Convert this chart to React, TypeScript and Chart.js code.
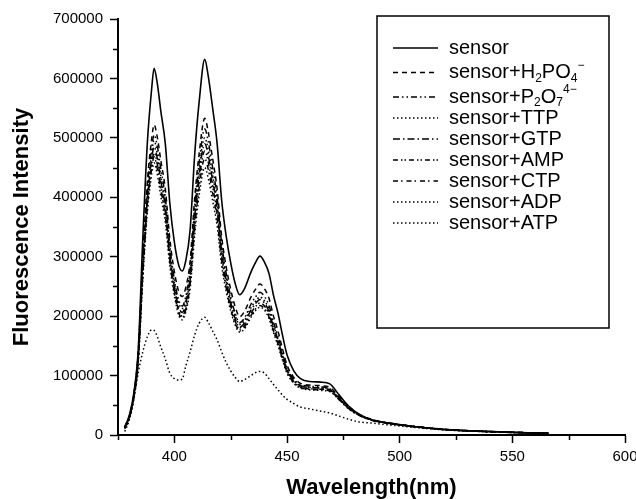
import React, { useEffect, useRef } from 'react';
import { Chart, registerables } from 'chart.js';

Chart.register(...registerables);

// ---------------- data ----------------
const wavelengths = [
  378, 380, 382, 384, 386, 388, 390, 391, 392.5, 394,
  396, 398, 400, 402, 403.5, 405, 407, 409, 411, 413.5,
  415, 417, 419, 421, 423, 425, 427, 429, 431, 434,
  436, 438, 440, 442, 444, 446, 448, 450, 453, 456,
  460, 465, 469, 473, 477, 482, 488, 495, 505, 520,
  535, 550, 566,
];

const sensor = [
  14000, 33000, 70000, 145000, 330000, 490000, 585000, 617000, 590000, 545000,
  490000, 390000, 325000, 285000, 276000, 292000, 345000, 470000, 560000, 632000,
  605000, 550000, 490000, 395000, 335000, 290000, 255000, 236000, 245000, 274000,
  290000, 301000, 291000, 272000, 235000, 205000, 168000, 135000, 108000, 95000,
  90000, 89000, 86000, 68000, 50000, 35000, 25000, 20000, 15000, 9000,
  6500, 4500, 3000,
];

const sensorH2PO4 = [
  13000, 32000, 68000, 140000, 300000, 425000, 500000, 522000, 500000, 462000,
  414000, 330000, 275000, 241000, 233000, 247000, 292000, 397000, 473000, 533000,
  511000, 465000, 414000, 334000, 283000, 245000, 216000, 199000, 207000, 232000,
  245000, 254000, 246000, 230000, 200000, 175000, 145000, 118000, 97000, 87000,
  84000, 83000, 80000, 65000, 49000, 35000, 25500, 20000, 15000, 9500,
  6500, 4500, 3000,
];

const sensorP2O7 = [
  13000, 31000, 66000, 135000, 290000, 412000, 485000, 505000, 485000, 448000,
  400000, 318000, 262000, 226000, 217000, 232000, 280000, 383000, 458000, 515000,
  495000, 450000, 400000, 322000, 272000, 233000, 205000, 189000, 196000, 220000,
  232000, 240000, 233000, 218000, 190000, 166000, 138000, 113000, 94000, 85000,
  82000, 81000, 78000, 63000, 48000, 34000, 25000, 20000, 15000, 9500,
  6500, 4500, 3000,
];

const sensorTTP = [
  12000, 30000, 65000, 132000, 283000, 402000, 475000, 495000, 473000, 436000,
  390000, 310000, 256000, 222000, 213000, 226000, 272000, 372000, 447000, 500000,
  481000, 437000, 390000, 314000, 266000, 228000, 201000, 186000, 192000, 214000,
  225000, 232000, 226000, 212000, 186000, 162000, 135000, 111000, 92000, 83000,
  80000, 79000, 77000, 62000, 47000, 34000, 25000, 20000, 14500, 9500,
  6500, 4500, 3000,
];

const sensorGTP = [
  12000, 30000, 64000, 130000, 278000, 395000, 466000, 485000, 464000, 428000,
  383000, 304000, 250000, 215000, 206000, 220000, 266000, 365000, 438000, 490000,
  471000, 428000, 382000, 308000, 260000, 223000, 196000, 181000, 188000, 210000,
  221000, 228000, 222000, 208000, 182000, 159000, 133000, 110000, 91000, 83000,
  80000, 79000, 76000, 62000, 47000, 34000, 25500, 20500, 15000, 9500,
  6500, 4500, 3000,
];

const sensorAMP = [
  11000, 29000, 63000, 128000, 272000, 388000, 457000, 475000, 455000, 420000,
  375000, 298000, 244000, 209000, 200000, 214000, 260000, 356000, 428000, 478000,
  460000, 418000, 373000, 301000, 254000, 218000, 192000, 178000, 184000, 205000,
  216000, 222000, 217000, 203000, 178000, 156000, 130000, 108000, 90000, 81000,
  78000, 77000, 75000, 61000, 46000, 33500, 25000, 20000, 15000, 9500,
  6500, 4500, 3000,
];

const sensorCTP = [
  11000, 28000, 62000, 126000, 268000, 382000, 450000, 468000, 447000, 412000,
  368000, 292000, 240000, 205000, 197000, 210000, 254000, 346000, 416000, 465000,
  448000, 407000, 363000, 293000, 248000, 213000, 188000, 175000, 181000, 201000,
  212000, 218000, 213000, 199000, 175000, 153000, 128000, 106000, 88000, 80000,
  77000, 76000, 74000, 60000, 45500, 33000, 24500, 19500, 14500, 9000,
  6200, 4300, 3000,
];

const sensorADP = [
  11000, 28000, 61000, 124000, 262000, 373000, 440000, 458000, 437000, 402000,
  358000, 285000, 235000, 201000, 194000, 206000, 246000, 335000, 403000, 450000,
  433000, 394000, 352000, 285000, 242000, 209000, 185000, 173000, 178000, 198000,
  209000, 215000, 210000, 196000, 172000, 150000, 126000, 104000, 87000, 79000,
  76000, 75000, 73000, 60000, 45000, 33000, 24500, 19500, 14500, 9000,
  6200, 4300, 3000,
];

const sensorATP = [
  6000, 25000, 60000, 105000, 140000, 165000, 177000, 176000, 165000, 148000,
  128000, 104000, 95000, 92500, 94000, 115000, 140000, 168000, 188000, 198000,
  190000, 175000, 160000, 140000, 122000, 108000, 97000, 90000, 93000, 100000,
  105000, 107000, 104000, 95000, 85000, 76000, 67000, 60000, 53000, 47000,
  44000, 40000, 37000, 32000, 27000, 22000, 20000, 17000, 13500, 8500,
  6000, 4200, 3000,
];

const seriesValues = [
  sensor, sensorH2PO4, sensorP2O7, sensorTTP, sensorGTP,
  sensorAMP, sensorCTP, sensorADP, sensorATP,
];

const seriesLabels = [
  'sensor',
  'sensor+H₂PO₄⁻',
  'sensor+P₂O₇⁴⁻',
  'sensor+TTP',
  'sensor+GTP',
  'sensor+AMP',
  'sensor+CTP',
  'sensor+ADP',
  'sensor+ATP',
];

// legend text with sub/superscript markup
const legendMarkup = [
  'sensor',
  'sensor+H_{2}PO_{4}^{−}',
  'sensor+P_{2}O_{7}^{4−}',
  'sensor+TTP',
  'sensor+GTP',
  'sensor+AMP',
  'sensor+CTP',
  'sensor+ADP',
  'sensor+ATP',
];

const xTicks = [400, 450, 500, 550, 600];
const xMinorTicks = [375, 425, 475, 525, 575];
const yTicks = [0, 100000, 200000, 300000, 400000, 500000, 600000, 700000];
const yMinorTicks = [50000, 150000, 250000, 350000, 450000, 550000, 650000];

// ---------------- styles ----------------
const FONT = "'Liberation Sans', Arial, Helvetica, sans-serif";
const dashes: number[][] = [
  [],
  [5, 4],
  [6, 3, 1.5, 3, 1.5, 3],
  [1.5, 2.5],
  [7, 3, 1.5, 3],
  [5, 3, 1.5, 2, 1.5, 3],
  [5, 3, 1.5, 4],
  [1.5, 2.5],
  [1.5, 2.5],
];

function parseMarkup(s: string) {
  const parts: { text: string; kind: 'n' | 'sub' | 'sup' }[] = [];
  const re = /(_\{[^}]*\}|\^\{[^}]*\})/g;
  let last = 0;
  let m: RegExpExecArray | null;
  while ((m = re.exec(s))) {
    if (m.index > last) parts.push({ text: s.slice(last, m.index), kind: 'n' });
    const tok = m[0];
    parts.push({ text: tok.slice(2, -1), kind: tok[0] === '_' ? 'sub' : 'sup' });
    last = m.index + tok.length;
  }
  if (last < s.length) parts.push({ text: s.slice(last), kind: 'n' });
  return parts;
}

const boxLegend = {
  id: 'boxLegend',
  afterDraw(chart: any) {
    const { ctx, chartArea } = chart;
    const left = chartArea.left + 259;
    const top = chartArea.top - 3;
    const w = 232;
    const h = 312;
    ctx.save();
    ctx.fillStyle = '#fff';
    ctx.fillRect(left, top, w, h);
    ctx.strokeStyle = '#000';
    ctx.lineWidth = 1.5;
    ctx.setLineDash([]);
    ctx.strokeRect(left, top, w, h);
    let y = top + 32;
    chart.data.datasets.forEach((ds: any, i: number) => {
      const markup = legendMarkup[i];
      const hasScript = /[_^]/.test(markup);
      if (i > 0) y += 21 + (hasScript ? 3.5 : 0);
      ctx.strokeStyle = '#000';
      ctx.lineWidth = ds.borderWidth;
      ctx.setLineDash(ds.borderDash || []);
      ctx.beginPath();
      ctx.moveTo(left + 16, y);
      ctx.lineTo(left + 61, y);
      ctx.stroke();
      ctx.setLineDash([]);
      let x = left + 72;
      ctx.fillStyle = '#000';
      ctx.textBaseline = 'alphabetic';
      ctx.textAlign = 'left';
      parseMarkup(markup).forEach((p) => {
        if (p.kind === 'n') {
          ctx.font = `20px ${FONT}`;
          ctx.fillText(p.text, x, y + 5.5);
        } else if (p.kind === 'sub') {
          ctx.font = `12px ${FONT}`;
          ctx.fillText(p.text, x, y + 9);
        } else {
          ctx.font = `12px ${FONT}`;
          ctx.fillText(p.text, x, y - 4);
        }
        x += ctx.measureText(p.text).width;
      });
    });
    ctx.restore();
  },
};

const minorTicks = {
  id: 'minorTicks',
  afterDraw(chart: any) {
    const { ctx } = chart;
    const xs = chart.scales.x;
    const ys = chart.scales.y;
    ctx.save();
    ctx.strokeStyle = '#000';
    ctx.lineWidth = 1.5;
    ctx.beginPath();
    xMinorTicks.forEach((v) => {
      const px = Math.round(xs.getPixelForValue(v)) + 0.5;
      ctx.moveTo(px, xs.top);
      ctx.lineTo(px, xs.top + 5);
    });
    yMinorTicks.forEach((v) => {
      const py = Math.round(ys.getPixelForValue(v)) + 0.5;
      ctx.moveTo(ys.right - 5, py);
      ctx.lineTo(ys.right, py);
    });
    ctx.stroke();
    ctx.restore();
  },
};

export default function App() {
  const ref = useRef<HTMLCanvasElement | null>(null);

  useEffect(() => {
    if (!ref.current) return;
    const datasets = seriesValues.map((vals, i) => ({
      label: seriesLabels[i],
      data: wavelengths.map((wl, j) => ({ x: wl, y: vals[j] })),
      borderColor: '#000',
      backgroundColor: '#000',
      borderWidth: i === 0 ? 1.6 : 1.5,
      borderDash: dashes[i],
      pointRadius: 0,
      fill: false,
      cubicInterpolationMode: 'monotone' as const,
    }));

    const chart = new Chart(ref.current, {
      type: 'line',
      data: { datasets },
      plugins: [minorTicks, boxLegend],
      options: {
        responsive: false,
        animation: false,
        events: [],
        layout: { padding: { top: 19, right: 11, left: 0, bottom: 0 } },
        plugins: {
          legend: { display: false },
          tooltip: { enabled: false },
          title: { display: false },
        },
        scales: {
          x: {
            type: 'linear',
            min: 375,
            max: 600,
            afterBuildTicks: (s: any) => {
              s.ticks = xTicks.map((v) => ({ value: v }));
            },
            afterFit: (s: any) => {
              s.height = 64;
              s.paddingLeft = 0;
              s.paddingRight = 0;
            },
            grid: {
              display: true,
              drawOnChartArea: false,
              drawTicks: true,
              tickLength: 8,
              tickWidth: 1.5,
              tickColor: '#000',
            },
            border: { display: true, color: '#000', width: 2 },
            ticks: {
              color: '#000',
              font: { family: FONT, size: 15 },
              padding: 5,
              maxRotation: 0,
              autoSkip: false,
              callback: (v: any) => String(v),
            },
            title: {
              display: true,
              text: 'Wavelength(nm)',
              color: '#000',
              font: { family: FONT, size: 22, weight: 'bold', lineHeight: 1 },
              padding: { top: 0, bottom: 0 },
            },
          },
          y: {
            type: 'linear',
            min: 0,
            max: 700000,
            afterBuildTicks: (s: any) => {
              s.ticks = yTicks.map((v) => ({ value: v }));
            },
            afterFit: (s: any) => {
              s.width = 118;
              s.paddingTop = 0;
              s.paddingBottom = 0;
            },
            grid: {
              display: true,
              drawOnChartArea: false,
              drawTicks: true,
              tickLength: 8,
              tickWidth: 1.5,
              tickColor: '#000',
            },
            border: { display: true, color: '#000', width: 2 },
            ticks: {
              color: '#000',
              font: { family: FONT, size: 15 },
              padding: 7,
              autoSkip: false,
              callback: (v: any) => String(v),
            },
            title: {
              display: true,
              text: 'Fluorescence Intensity',
              color: '#000',
              font: { family: FONT, size: 22, weight: 'bold', lineHeight: 1 },
              padding: { top: 11, bottom: 0 },
            },
          },
        },
      },
    } as any);

    return () => chart.destroy();
  }, []);

  return (
    <div style={{ position: 'fixed', left: 0, top: 0, width: 636, height: 499, background: '#fff' }}>
      <canvas ref={ref} width={636} height={499} style={{ display: 'block', width: 636, height: 499 }} />
    </div>
  );
}
